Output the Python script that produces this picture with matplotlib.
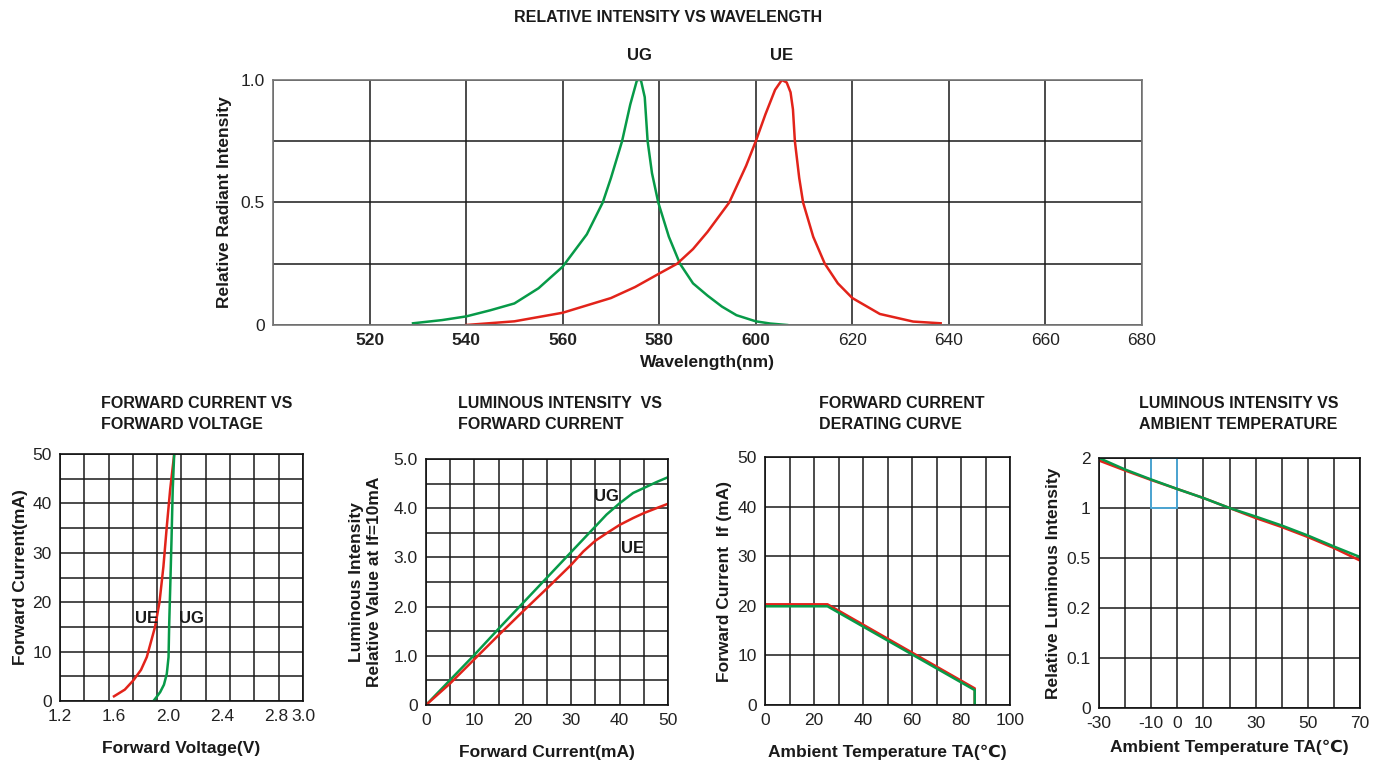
import numpy as np
import matplotlib
matplotlib.use("Agg")
import matplotlib.pyplot as plt
import matplotlib.patches as mpatches

plt.rcParams['font.family'] = ['Liberation Sans Narrow', 'DejaVu Sans Condensed', 'Liberation Sans', 'DejaVu Sans']

RED = '#e2231a'
GREEN = '#079a48'
GRID = '#1a1a1a'

# --- spectrum -------------------------------------------------------------
ug_wl = [529, 535, 540, 545, 550, 555, 560, 565, 568.3, 570, 572.3, 574, 575.4, 576.2, 577, 577.6, 578.5, 579.8,
         582, 584.3, 587, 590, 593, 596, 600, 603, 606.5]
ug_int = [0.007, 0.02, 0.035, 0.06, 0.088, 0.15, 0.238, 0.37, 0.5, 0.6, 0.75, 0.9, 1.0, 1.0, 0.93, 0.75, 0.62, 0.5,
          0.36, 0.25, 0.17, 0.12, 0.075, 0.04, 0.015, 0.006, 0.0]
ue_wl = [540, 550, 560, 570, 575, 580, 583.7, 587, 590, 594.5, 598, 600, 602, 604, 605.4, 606.4, 607.2, 607.7, 608.1,
         609, 609.8, 611.9, 614.3, 617, 620, 625.7, 632.6, 638.3]
ue_int = [0.0, 0.015, 0.05, 0.11, 0.155, 0.21, 0.25, 0.31, 0.38, 0.5, 0.65, 0.75, 0.86, 0.96, 1.0, 0.99, 0.95, 0.88,
          0.75, 0.6, 0.5, 0.36, 0.25, 0.17, 0.11, 0.045, 0.014, 0.007]

# --- forward current vs forward voltage ------------------------------------
ue_vf = [1.60, 1.68, 1.744, 1.80, 1.843, 1.904, 1.937, 1.966, 1.991, 2.016, 2.046]
ue_if = [0.95, 2.3, 4.2, 6.3, 8.9, 15.0, 20.0, 27.2, 35.3, 42.8, 50.0]
ug_vf = [1.892, 1.915, 1.942, 1.97, 1.991, 2.004, 2.009, 2.016, 2.026, 2.035, 2.046]
ug_if = [0.0, 0.8, 1.8, 3.3, 5.5, 8.9, 15.7, 22.5, 32.6, 42.8, 50.0]

# --- luminous intensity vs forward current ---------------------------------
li_if = [0, 5, 10, 15, 20, 25, 30, 32.5, 35, 37.3, 40, 42.8, 45, 47.6, 50]
ug_li = [0.0, 0.51, 1.02, 1.55, 2.07, 2.59, 3.11, 3.37, 3.63, 3.87, 4.1, 4.31, 4.41, 4.53, 4.63]
ue_li = [0.0, 0.44, 0.93, 1.42, 1.9, 2.37, 2.85, 3.12, 3.34, 3.49, 3.66, 3.8, 3.9, 4.0, 4.09]

# --- derating ---------------------------------------------------------------
ue_ta = [0, 25.5, 85.6, 85.6]
ue_der = [20.3, 20.3, 3.35, 0]
ug_ta = [0, 25.5, 85.6, 85.6]
ug_der = [19.9, 19.9, 3.0, 0]

# --- luminous intensity vs ambient temperature -----------------------------
temp = [-30, -20, -10, 0, 10, 20, 30, 40, 50, 60, 70]
ug_rel = [2.0, 1.77, 1.57, 1.38, 1.2, 1.0, 0.915, 0.825, 0.725, 0.615, 0.51]
ue_rel = [1.95, 1.75, 1.56, 1.38, 1.2, 1.0, 0.9, 0.81, 0.71, 0.6, 0.485]
rel_ticks = [0, 0.1, 0.2, 0.5, 1, 2]
rel_labels = ['0', '0.1', '0.2', '0.5', '1', '2']

W, H = 1381, 760
fig = plt.figure(figsize=(W / 100, H / 100), dpi=100)


def box(l, t, r, b):
    return [l / W, 1 - b / H, (r - l) / W, (b - t) / H]


def style(ax, frame='#111111'):
    ax.xaxis.remove_overlapping_locs = False
    ax.yaxis.remove_overlapping_locs = False
    ax.grid(which='minor', color=GRID, lw=1.1)
    ax.grid(which='major', visible=False)
    ax.tick_params(which='both', length=0, labelsize=12.5, colors='#222222', pad=6)
    ax.tick_params(which='minor', labelbottom=False, labelleft=False)
    for s in ax.spines.values():
        s.set_color(frame)
        s.set_linewidth(1.2)
    ax.set_axisbelow(True)


bold = dict(fontweight='bold', color='#1a1a1a')

# top chart
ax = fig.add_axes(box(273, 80, 1142, 325))
ax.plot(ug_wl, ug_int, color=GREEN, lw=1.8)
ax.plot(ue_wl, ue_int, color=RED, lw=1.8)
ax.set_xlim(500, 680)
ax.set_ylim(0, 1)
ax.set_xticks(np.arange(500, 681, 20), minor=True)
ax.set_yticks(np.arange(0, 1.01, 0.25), minor=True)
ax.set_xticks(np.arange(520, 681, 20))
ax.set_yticks([0, 0.5, 1.0], ['0', '0.5', '1.0'])
style(ax, frame='#777777')
for lab in ax.get_xticklabels():
    if float(lab.get_position()[0]) <= 600:
        lab.set_fontweight('bold')
ax.text(575.8, 1.07, 'UG', ha='center', va='bottom', fontsize=12, **bold)
ax.text(605.3, 1.07, 'UE', ha='center', va='bottom', fontsize=12, **bold)
ax.set_xlabel('Wavelength(nm)', fontsize=12.5, labelpad=5, **bold)
ax.set_ylabel('Relative Radiant Intensity', fontsize=12.5, labelpad=6, **bold)
fig.text(668 / W, 1 - 18 / H, 'RELATIVE INTENSITY VS WAVELENGTH', ha='center', va='center', fontsize=11.5, **bold)

# chart 1
ax = fig.add_axes(box(60, 454, 303, 701))
ax.plot(ue_vf, ue_if, color=RED, lw=1.8)
ax.plot(ug_vf, ug_if, color=GREEN, lw=1.8)
ax.set_xlim(1.2, 3.0)
ax.set_ylim(0, 50)
ax.set_xticks(np.linspace(1.2, 3.0, 11), minor=True)
ax.set_yticks(np.arange(0, 51, 5), minor=True)
ax.set_xticks([1.2, 1.6, 2.0, 2.4, 2.8, 3.0], ['1.2', '1.6', '2.0', '2.4', '2.8', '3.0'])
ax.set_yticks(np.arange(0, 51, 10))
style(ax)
ax.text(1.843, 16.7, 'UE', ha='center', va='center', fontsize=12, **bold)
ax.text(2.177, 16.7, 'UG', ha='center', va='center', fontsize=12, **bold)
ax.set_xlabel('Forward Voltage(V)', fontsize=12.5, labelpad=12, **bold)
ax.set_ylabel('Forward Current(mA)', fontsize=12.5, labelpad=3, **bold)
fig.text(101 / W, 1 - 396 / H, 'FORWARD CURRENT VS\nFORWARD VOLTAGE', ha='left', va='top', fontsize=11.5, linespacing=1.5, **bold)

# chart 2
ax = fig.add_axes(box(426, 459, 668, 705))
ax.plot(li_if, ug_li, color=GREEN, lw=1.8)
ax.plot(li_if, ue_li, color=RED, lw=1.8)
ax.set_xlim(0, 50)
ax.set_ylim(0, 5)
ax.set_xticks(np.arange(0, 51, 5), minor=True)
ax.set_yticks(np.arange(0, 5.01, 0.5), minor=True)
ax.set_xticks(np.arange(0, 51, 10))
ax.set_yticks([0, 1, 2, 3, 4, 5], ['0', '1.0', '2.0', '3.0', '4.0', '5.0'])
style(ax)
ax.text(37.3, 4.24, 'UG', ha='center', va='center', fontsize=12, **bold)
ax.text(42.6, 3.19, 'UE', ha='center', va='center', fontsize=12, **bold)
ax.set_xlabel('Forward Current(mA)', fontsize=12.5, labelpad=12, **bold)
ax.set_ylabel('Luminous Intensity\nRelative Value at If=10mA', fontsize=12.5, labelpad=8, linespacing=1.25, **bold)
fig.text(458 / W, 1 - 396 / H, 'LUMINOUS INTENSITY  VS\nFORWARD CURRENT', ha='left', va='top', fontsize=11.5, linespacing=1.5, **bold)

# chart 3
ax = fig.add_axes(box(765, 457, 1010, 705))
ax.plot(ue_ta, ue_der, color=RED, lw=1.8)
ax.plot(ug_ta, ug_der, color=GREEN, lw=1.8)
ax.set_xlim(0, 100)
ax.set_ylim(0, 50)
ax.set_xticks(np.arange(0, 101, 10), minor=True)
ax.set_yticks(np.arange(0, 51, 10), minor=True)
ax.set_xticks(np.arange(0, 101, 20))
ax.set_yticks(np.arange(0, 51, 10))
style(ax)
ax.set_xlabel('Ambient Temperature TA(℃)', fontsize=12.5, labelpad=12, **bold)
ax.set_ylabel('Forward Current  If (mA)', fontsize=12.5, labelpad=4, **bold)
fig.text(819 / W, 1 - 396 / H, 'FORWARD CURRENT\nDERATING CURVE', ha='left', va='top', fontsize=11.5, linespacing=1.5, **bold)

# chart 4
pos = np.arange(len(rel_ticks))
ax = fig.add_axes(box(1099, 458, 1360, 708))
ax.set_yscale('function', functions=(lambda v: np.interp(v, rel_ticks, pos),
                                     lambda p: np.interp(p, pos, rel_ticks)))
ax.plot(temp, ue_rel, color=RED, lw=1.8)
ax.plot(temp, ug_rel, color=GREEN, lw=1.8)
ax.set_xlim(-30, 70)
ax.set_ylim(0, 2)
ax.set_xticks(np.arange(-30, 71, 10), minor=True)
ax.set_yticks(rel_ticks, minor=True)
ax.set_xticks([-30, -10, 0, 10, 30, 50, 70], ['-30', '-10', '0', '10', '30', '50', '70'])
ax.set_yticks(rel_ticks, rel_labels)
ax.yaxis.set_minor_formatter(plt.NullFormatter())
style(ax)
ax.add_patch(mpatches.Rectangle((-10, 1), 10, 1, fill=False, edgecolor='#4db6ea', lw=1.2, zorder=1.5))
ax.set_xlabel('Ambient Temperature TA(℃)', fontsize=12.5, labelpad=6, **bold)
ax.set_ylabel('Relative Luminous Intensity', fontsize=12.5, labelpad=4, **bold)
fig.text(1139 / W, 1 - 396 / H, 'LUMINOUS INTENSITY VS\nAMBIENT TEMPERATURE', ha='left', va='top', fontsize=11.5, linespacing=1.5, **bold)

fig.savefig('out.png', dpi=100)
